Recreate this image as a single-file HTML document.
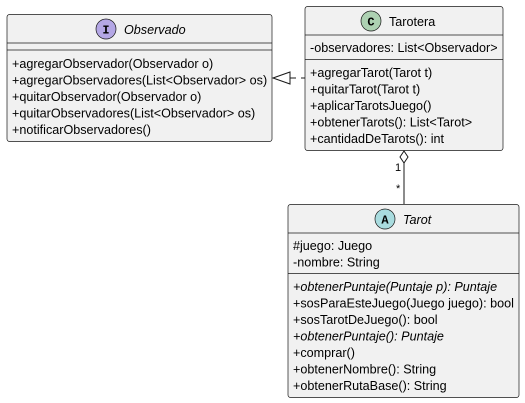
<!DOCTYPE html>
<html><head><meta charset="utf-8"><style>
body{margin:0;background:#fff}
svg{display:block}
text{font-family:"Liberation Sans",Arial,sans-serif;font-size:12.6px;fill:#000}
.i{font-style:italic}
</style></head><body>
<svg width="525" height="403" viewBox="0 0 525 403">
<!-- Observado -->
<rect x="7" y="14.5" width="265" height="127" rx="2.5" fill="#f1f1f1" stroke="#181818" stroke-width="0.7"/>
<line x1="7" y1="43" x2="272" y2="43" stroke="#181818" stroke-width="0.7"/>
<line x1="7" y1="50" x2="272" y2="50" stroke="#181818" stroke-width="0.7"/>
<circle cx="106" cy="29" r="10" fill="#b4a7e5" stroke="#181818" stroke-width="0.7"/>
<text x="106" y="33.5" text-anchor="middle" style="font-weight:bold;font-family:'Liberation Mono',monospace;font-size:12px">I</text>
<text x="124" y="34" class="i">Observado</text>
<text x="12" y="68">+agregarObservador(Observador o)</text>
<text x="12" y="84.5">+agregarObservadores(List&lt;Observador&gt; os)</text>
<text x="12" y="101">+quitarObservador(Observador o)</text>
<text x="12" y="117.5">+quitarObservadores(List&lt;Observador&gt; os)</text>
<text x="12" y="134">+notificarObservadores()</text>
<!-- Tarotera -->
<rect x="305" y="6.5" width="198" height="144" rx="2.5" fill="#f1f1f1" stroke="#181818" stroke-width="0.7"/>
<line x1="305" y1="35" x2="503" y2="35" stroke="#181818" stroke-width="0.7"/>
<line x1="305" y1="59.5" x2="503" y2="59.5" stroke="#181818" stroke-width="0.7"/>
<circle cx="371" cy="21" r="10" fill="#add1b2" stroke="#181818" stroke-width="0.7"/>
<text x="371" y="25.5" text-anchor="middle" style="font-weight:bold;font-family:'Liberation Mono',monospace;font-size:12px">C</text>
<text x="389" y="26">Tarotera</text>
<text x="310" y="52">-observadores: List&lt;Observador&gt;</text>
<text x="310" y="77">+agregarTarot(Tarot t)</text>
<text x="310" y="93.5">+quitarTarot(Tarot t)</text>
<text x="310" y="110">+aplicarTarotsJuego()</text>
<text x="310" y="126.5">+obtenerTarots(): List&lt;Tarot&gt;</text>
<text x="310" y="143">+cantidadDeTarots(): int</text>
<!-- Tarot -->
<rect x="288" y="204.5" width="231" height="193" rx="2.5" fill="#f1f1f1" stroke="#181818" stroke-width="0.7"/>
<line x1="288" y1="233" x2="519" y2="233" stroke="#181818" stroke-width="0.7"/>
<line x1="288" y1="273.5" x2="519" y2="273.5" stroke="#181818" stroke-width="0.7"/>
<circle cx="385" cy="219" r="10" fill="#a9dcdf" stroke="#181818" stroke-width="0.7"/>
<text x="385" y="223.5" text-anchor="middle" style="font-weight:bold;font-family:'Liberation Mono',monospace;font-size:12px">A</text>
<text x="403" y="224" class="i">Tarot</text>
<text x="293" y="250">#juego: Juego</text>
<text x="293" y="266.5">-nombre: String</text>
<text x="293" y="291" class="i">+obtenerPuntaje(Puntaje p): Puntaje</text>
<text x="293" y="307.5">+sosParaEsteJuego(Juego juego): bool</text>
<text x="293" y="324">+sosTarotDeJuego(): bool</text>
<text x="293" y="340.5" class="i">+obtenerPuntaje(): Puntaje</text>
<text x="293" y="357">+comprar()</text>
<text x="293" y="373.5">+obtenerNombre(): String</text>
<text x="293" y="390">+obtenerRutaBase(): String</text>
<!-- realization -->
<line x1="290" y1="78" x2="305" y2="78" stroke="#181818" stroke-width="1" stroke-dasharray="6,5"/>
<polygon points="273,78 290,72 290,84" fill="#fff" stroke="#181818" stroke-width="1"/>
<!-- aggregation -->
<line x1="404" y1="163" x2="404" y2="204" stroke="#181818" stroke-width="1"/>
<polygon points="404,151 408,157 404,163 400,157" fill="#fff" stroke="#181818" stroke-width="1"/>
<text x="395" y="171" style="font-size:11px">1</text>
<text x="396" y="192" style="font-size:11px">*</text>
</svg>
</body></html>
